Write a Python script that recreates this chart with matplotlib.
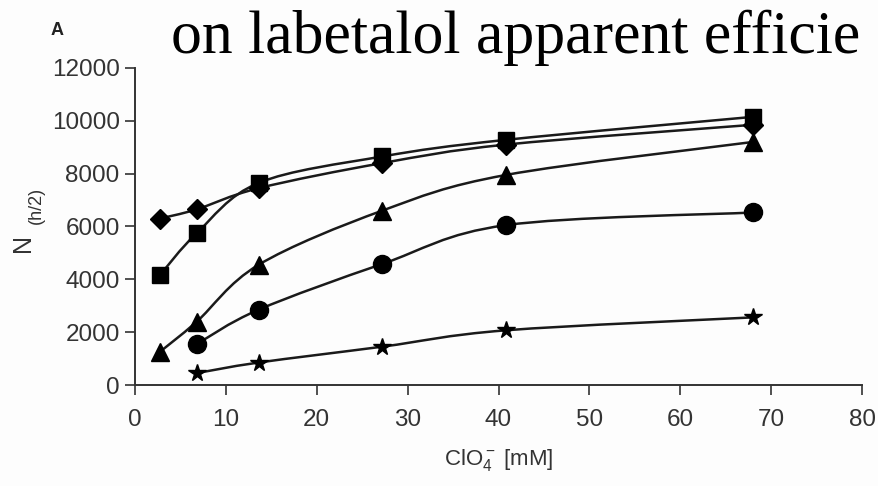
import matplotlib
matplotlib.use("Agg")
import matplotlib.pyplot as plt
from matplotlib.path import Path
from matplotlib.patches import PathPatch
import numpy as np

# Perchlorate concentration (mM)
conc = [2.72, 6.8, 13.6, 27.2, 40.8, 68.0]

# Plate numbers N(h/2) for each series
n_square = [4150, 5750, 7650, 8650, 9280, 10150]
n_diamond = [6300, 6650, 7450, 8400, 9100, 9850]
n_triangle = [1250, 2400, 4550, 6600, 7950, 9200]
n_circle = [1550, 2850, 4580, 6050, 6530]      # from 6.8 mM
n_star = [450, 850, 1450, 2070, 2560]          # from 6.8 mM

xticks = [0, 10, 20, 30, 40, 50, 60, 70, 80]
yticks = [0, 2000, 4000, 6000, 8000, 10000, 12000]

plt.rcParams['font.family'] = ['Liberation Sans', 'DejaVu Sans']
plt.rcParams['mathtext.fontset'] = 'custom'
plt.rcParams['mathtext.rm'] = 'Liberation Sans'
plt.rcParams['mathtext.it'] = 'Liberation Sans'
plt.rcParams['mathtext.bf'] = 'Liberation Sans:bold'

fig = plt.figure(figsize=(8.79, 4.86), dpi=100, facecolor='#fdfdfd')
ax = fig.add_axes([135 / 879, 101 / 486, 727 / 879, 317 / 486])
ax.set_facecolor('#fdfdfd')


def smooth_path(xs, ys):
    """Catmull-Rom style smoothed line through the points as cubic Beziers."""
    pts = np.column_stack([xs, ys]).astype(float)
    n = len(pts)
    verts = [pts[0]]
    codes = [Path.MOVETO]
    for i in range(n - 1):
        p0 = pts[i - 1] if i > 0 else pts[i]
        p1 = pts[i]
        p2 = pts[i + 1]
        p3 = pts[i + 2] if i + 2 < n else pts[i + 1]
        c1 = p1 + (p2 - p0) / 6.0
        c2 = p2 - (p3 - p1) / 6.0
        verts += [c1, c2, p2]
        codes += [Path.CURVE4] * 3
    return Path(verts, codes)


series = [
    (conc, n_square, 's', 12),
    (conc, n_diamond, 'D', 10),
    (conc, n_triangle, '^', 12.5),
    (conc[1:], n_circle, 'o', 13),
    (conc[1:], n_star, '*', 13),
]

for xs, ys, mk, ms in series:
    ax.add_patch(PathPatch(smooth_path(xs, ys), facecolor='none',
                           edgecolor='#1a1a1a', lw=1.8, zorder=2))
    ax.plot(xs, ys, linestyle='none', marker=mk, ms=ms, color='black',
            mec='black', zorder=3, clip_on=False)

ax.set_xlim(0, 80)
ax.set_ylim(0, 12000)
ax.set_xticks(xticks)
ax.set_yticks(yticks)
ax.set_xticklabels([str(v) for v in xticks])
ax.set_yticklabels([str(v) for v in yticks])

for s in ['top', 'right']:
    ax.spines[s].set_visible(False)
for s in ['left', 'bottom']:
    ax.spines[s].set_color('#333333')
    ax.spines[s].set_linewidth(1.4)

ax.tick_params(axis='both', direction='out', length=7, width=1.2,
               color='#333333', labelcolor='#333333', labelsize=17.5)
ax.tick_params(axis='x', pad=10)
ax.tick_params(axis='y', pad=4)

ax.set_xlabel(r'ClO$_4^-$ [mM]', fontsize=16, color='#333333', labelpad=12)

# y-axis label: N with smaller (h/2)
fig.text(0.026, 0.50, 'N', rotation=90, fontsize=18, color='#333333',
         ha='center', va='center')
fig.text(0.041, 0.578, '(h/2)', rotation=90, fontsize=13, color='#333333',
         ha='center', va='center')

# panel letter and heading text
fig.text(57 / 879, 1 - 30 / 486, 'A', fontsize=13, fontweight='bold',
         color='#222222', ha='center', va='center')
fig.text(171 / 879, 1 - 53 / 486, 'on labetalol apparent efficie',
         family='Liberation Serif', fontsize=44.5, color='black',
         ha='left', va='baseline')

fig.savefig('out.png', dpi=100, facecolor=fig.get_facecolor())
